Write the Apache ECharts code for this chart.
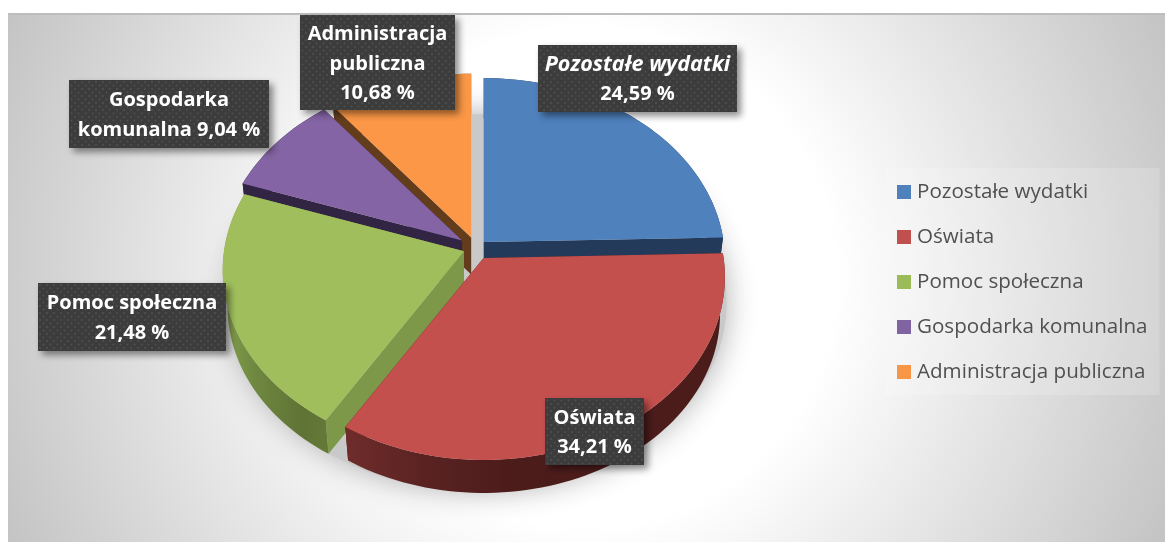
<!DOCTYPE html>
<html>
<head>
<meta charset="utf-8">
<style>html,body{margin:0;padding:0;background:#fff}#c{width:1165px;height:542px}</style>
<script src="https://cdn.jsdelivr.net/npm/echarts@6/dist/echarts.min.js"></script>
</head>
<body>
<div id="c"></div>
<script>
// ---- data ----
var categories = ['Pozostałe wydatki', 'Oświata', 'Pomoc społeczna', 'Gospodarka komunalna', 'Administracja publiczna'];
var values = [24.59, 34.21, 21.48, 9.04, 10.68];
var explode = [0.046, 0.0635, 0.053, 0.071, 0.061];
var labelLines = [['Pozostałe wydatki'], ['Oświata'], ['Pomoc społeczna'], ['Gospodarka'], ['Administracja', 'publiczna']];
var labelPrefix = ['', '', '', 'komunalna ', ''];
var labelItalic = [true, false, false, false, false];

// ---- styles ----
var topColors = ['#4f81bd', '#c4504e', '#a0bf5c', '#8464a4', '#fb9746'];
var legendColors = ['#4f81bd', '#c0504d', '#9bbb59', '#8064a2', '#f79646'];
var wallColors = ['#243a5a', '#4c1c1b', '#7e984a', '#322443', '#633c1c'];
var arcStops = [
  null,
  [[0, '#6e2c2a'], [0.2, '#5a2322'], [0.42, '#4c1c1b'], [1, '#4c1c1b']],
  [[0, '#84a04c'], [0.3, '#6f8840'], [0.75, '#5f7335'], [1, '#657a38']],
  null, null
];
var arcRange = [null, [347, 726], [222, 330], null, null];
var drawOrder = [4, 0, 3, 2, 1];
var labelBoxes = [[538, 45, 199, 67], [545, 398, 99, 67], [38, 283, 188, 68], [69, 80, 200, 68], [300, 15, 155, 95]];
var PIE = {cx: 476, cy: 248, rx: 240, ry: 181, persp: 0.104, depth: 37, bottomScale: 0.98};

// cumulative angles
var startAngles = [], endAngles = [];
(function () {
  var total = values.reduce(function (a, b) { return a + b; }, 0), acc = 0;
  values.forEach(function (v) {
    startAngles.push(acc / total * 2 * Math.PI);
    acc += v;
    endAngles.push(acc / total * 2 * Math.PI);
  });
})();

function proj(theta) {
  var u = Math.sin(theta), v = Math.cos(theta), w = 1 + PIE.persp * v;
  return [PIE.rx * u / w, -PIE.ry * v / w];
}
function apexOf(i) {
  var mid = (startAngles[i] + endAngles[i]) / 2;
  return [PIE.cx + PIE.rx * explode[i] * Math.sin(mid), PIE.cy - PIE.ry * explode[i] * Math.cos(mid)];
}
function lower(apex, d) {
  return [apex[0] + d[0] * PIE.bottomScale, apex[1] + d[1] * PIE.bottomScale + PIE.depth];
}
function upper(apex, d) { return [apex[0] + d[0], apex[1] + d[1]]; }

function renderSlice(i) {
  return function (params, api) {
    var apex = apexOf(i), s = startAngles[i], e = endAngles[i];
    var n = Math.max(4, Math.ceil((e - s) / 0.03));
    var topArc = [], lowArc = [];
    for (var k = 0; k <= n; k++) {
      var d = proj(s + (e - s) * k / n);
      topArc.push(upper(apex, d));
      lowArc.push(lower(apex, d));
    }
    var apexLow = [apex[0], apex[1] + PIE.depth];
    var wall = wallColors[i];
    var arcFill = wall;
    if (arcStops[i]) {
      var r = arcRange[i], st = arcStops[i];
      arcFill = new echarts.graphic.LinearGradient(r[0], 0, r[1], 0,
        st.map(function (q) { return {offset: q[0], color: q[1]}; }), true);
    }
    var children = [
      {type: 'polygon', shape: {points: [apex, topArc[0], lowArc[0], apexLow]}, style: {fill: wall}},
      {type: 'polygon', shape: {points: [apex, topArc[n], lowArc[n], apexLow]}, style: {fill: wall}},
      {type: 'polygon', shape: {points: topArc.concat(lowArc.slice().reverse())}, style: {fill: arcFill}},
      {type: 'polygon', shape: {points: [apex].concat(topArc)}, style: {fill: topColors[i]}}
    ];
    return {type: 'group', children: children};
  };
}

function renderShadow() {
  var pts = [];
  for (var k = 0; k < 180; k++) {
    var d = proj(k / 180 * 2 * Math.PI);
    pts.push([PIE.cx + 2 + d[0] * 1.03, 283 + d[1] * 1.03]);
  }
  return {type: 'polygon', shape: {points: pts},
    style: {fill: '#c9c9c9', shadowBlur: 30, shadowColor: 'rgba(170,170,170,0.95)'}};
}

var dotCanvas = document.createElement('canvas');
dotCanvas.width = 7; dotCanvas.height = 7;
(function () {
  var g = dotCanvas.getContext('2d');
  g.fillStyle = '#3c3c3c'; g.fillRect(0, 0, 7, 7);
  g.fillStyle = '#505050';
  g.beginPath(); g.arc(1.5, 1.5, 1, 0, 7); g.fill();
  g.beginPath(); g.arc(5, 5, 1, 0, 7); g.fill();
})();

function pctText(v) { return v.toFixed(2).replace('.', ',') + ' %'; }

function renderLabel(params, api) {
  var i = params.dataIndex, b = labelBoxes[i], v = api.value(0);
  var lines = labelLines[i].slice();
  lines.push(labelPrefix[i] + pctText(v));
  var lh = 29.5, x = b[0] + b[2] / 2, y0 = b[1] + b[3] / 2 - (lines.length - 1) * lh / 2 + 1.5;
  var children = [{type: 'rect', shape: {x: b[0], y: b[1], width: b[2], height: b[3]},
    style: {fill: {image: dotCanvas, repeat: 'repeat'}, shadowBlur: 7, shadowOffsetX: 4, shadowOffsetY: 4, shadowColor: 'rgba(0,0,0,0.45)'}}];
  lines.forEach(function (t, j) {
    var italic = labelItalic[i] && j === 0;
    children.push({type: 'text', style: {
      text: t, x: x, y: y0 + j * lh, align: 'center', verticalAlign: 'middle',
      fill: '#ffffff', font: italic ? 'italic bold 21.5px "Open Sans"' : 'bold 20px "Open Sans"'
    }});
  });
  return {type: 'group', children: children};
}

var series = [{type: 'custom', name: '__shadow', coordinateSystem: 'none', silent: true, z: 1,
  data: [0], renderItem: renderShadow}];
drawOrder.forEach(function (i, idx) {
  series.push({type: 'custom', name: categories[i], coordinateSystem: 'none', z: 2 + idx,
    itemStyle: {color: legendColors[i]}, data: [values[i]], renderItem: renderSlice(i)});
});
series.push({type: 'custom', name: '__labels', coordinateSystem: 'none', z: 20,
  data: values.map(function (v) { return [v]; }), renderItem: renderLabel});

var chart = echarts.init(document.getElementById('c'), null, {renderer: 'canvas'});
chart.setOption({
  animation: false,
  graphic: [
    {type: 'rect', z: -10, shape: {x: 8, y: 14, width: 1157, height: 528},
      style: {fill: {type: 'radial', x: 586, y: 278, r: 640, global: true,
        colorStops: [{offset: 0, color: '#ffffff'}, {offset: 0.39, color: '#ffffff'}, {offset: 1, color: '#c3c3c3'}]}}},
    {type: 'rect', z: -9, shape: {x: 8, y: 13, width: 1157, height: 2}, style: {fill: '#bdbdbd'}}
  ],
  legend: {
    orient: 'vertical', left: 885, top: 168, padding: [11, 12, 10, 12],
    backgroundColor: 'rgba(255,255,255,0.17)',
    itemWidth: 14, itemHeight: 14, itemGap: 19, icon: 'rect',
    data: categories,
    textStyle: {fontFamily: '"Open Sans"', fontSize: 20.6, color: '#505050', padding: [0, 0, 0, 1], height: 26, lineHeight: 26}
  },
  series: series
});
</script>
</body>
</html>
